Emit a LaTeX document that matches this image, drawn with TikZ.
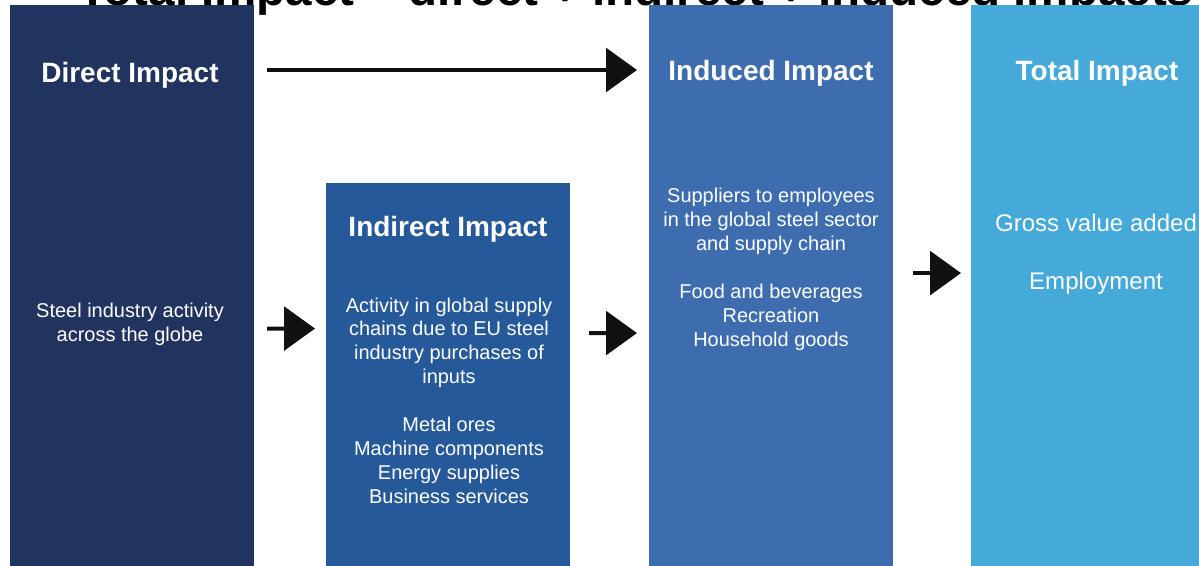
\documentclass[tikz,border=0pt]{standalone}
\usepackage{fontspec}
\setmainfont{Liberation Sans}
\usetikzlibrary{arrows.meta,calc}

\definecolor{directblue}{HTML}{213460}
\definecolor{indirectblue}{HTML}{26599A}
\definecolor{inducedblue}{HTML}{3D6DAF}
\definecolor{totalblue}{HTML}{45A9DA}
\definecolor{arrowblack}{HTML}{111111}

\tikzset{
  column/.style={rectangle,inner sep=0pt,outer sep=0pt,minimum width=6.1cm,anchor=north west},
  heading/.style={text=white,inner sep=0pt,anchor=base,font=\fontsize{19.9pt}{24pt}\selectfont\bfseries},
  body/.style={text=white,align=center,font=\fontsize{14.2pt}{17pt}\selectfont},
  flow/.style={-{Triangle[length=22pt,width=31pt]},line width=2.8pt,draw=arrowblack}
}

\begin{document}
\begin{tikzpicture}[x=0.025cm,y=-0.025cm]
\useasboundingbox (0,0) rectangle (1199,566);

% Headline, running off the top edge
\node[anchor=base west,inner sep=0pt,font=\fontsize{33.8pt}{40pt}\selectfont\bfseries] (headline) at (78,5) {Total Impact = direct + indirect + induced impacts};

% Columns
\node[column,fill=directblue,minimum height=14.025cm] (direct) at (10,5) {};
\node[column,fill=indirectblue,minimum height=9.575cm] (indirect) at (326,183) {};
\node[column,fill=inducedblue,minimum height=14.025cm] (induced) at (649,5) {};
\node[column,fill=totalblue,minimum height=14.025cm] (total) at (971,5) {};

% Headings
\node[heading] (directhead) at (130,82) {Direct Impact};
\node[heading] (indirecthead) at (448,236) {Indirect Impact};
\node[heading] (inducedhead) at (771,80) {Induced Impact};
\node[heading] (totalhead) at (1097,80) {Total Impact};

% Column texts
\node[body] (directtext) at (130,324) {Steel industry activity\\across the globe};
\node[body] (indirecttext) at (449,400.5) {Activity in global supply\\chains due to EU steel\\industry purchases of\\inputs\\[17pt]Metal ores\\Machine components\\Energy supplies\\Business services};
\node[body] (inducedtext) at (771,269.5) {Suppliers to employees\\in the global steel sector\\and supply chain\\[17pt]Food and beverages\\Recreation\\Household goods};
\node[body,font=\fontsize{17.1pt}{20.5pt}\selectfont] (totaltext) at (1096,254) {Gross value added\\[20.8pt]Employment};

% Arrows
\draw[flow] ($(direct.north east)+(13,65)$) -- ($(induced.north west)+(-12,65)$);
\draw[flow] ($(direct.east)+(13,43)$) -- ($(indirect.west)+(-11,-46)$);
\draw[flow] ($(indirect.east)+(19,-41.5)$) -- ($(induced.west)+(-12,47.5)$);
\draw[flow] ($(induced.east)+(20,-12.5)$) -- ($(total.west)+(-10,-12.5)$);
\end{tikzpicture}
\end{document}
